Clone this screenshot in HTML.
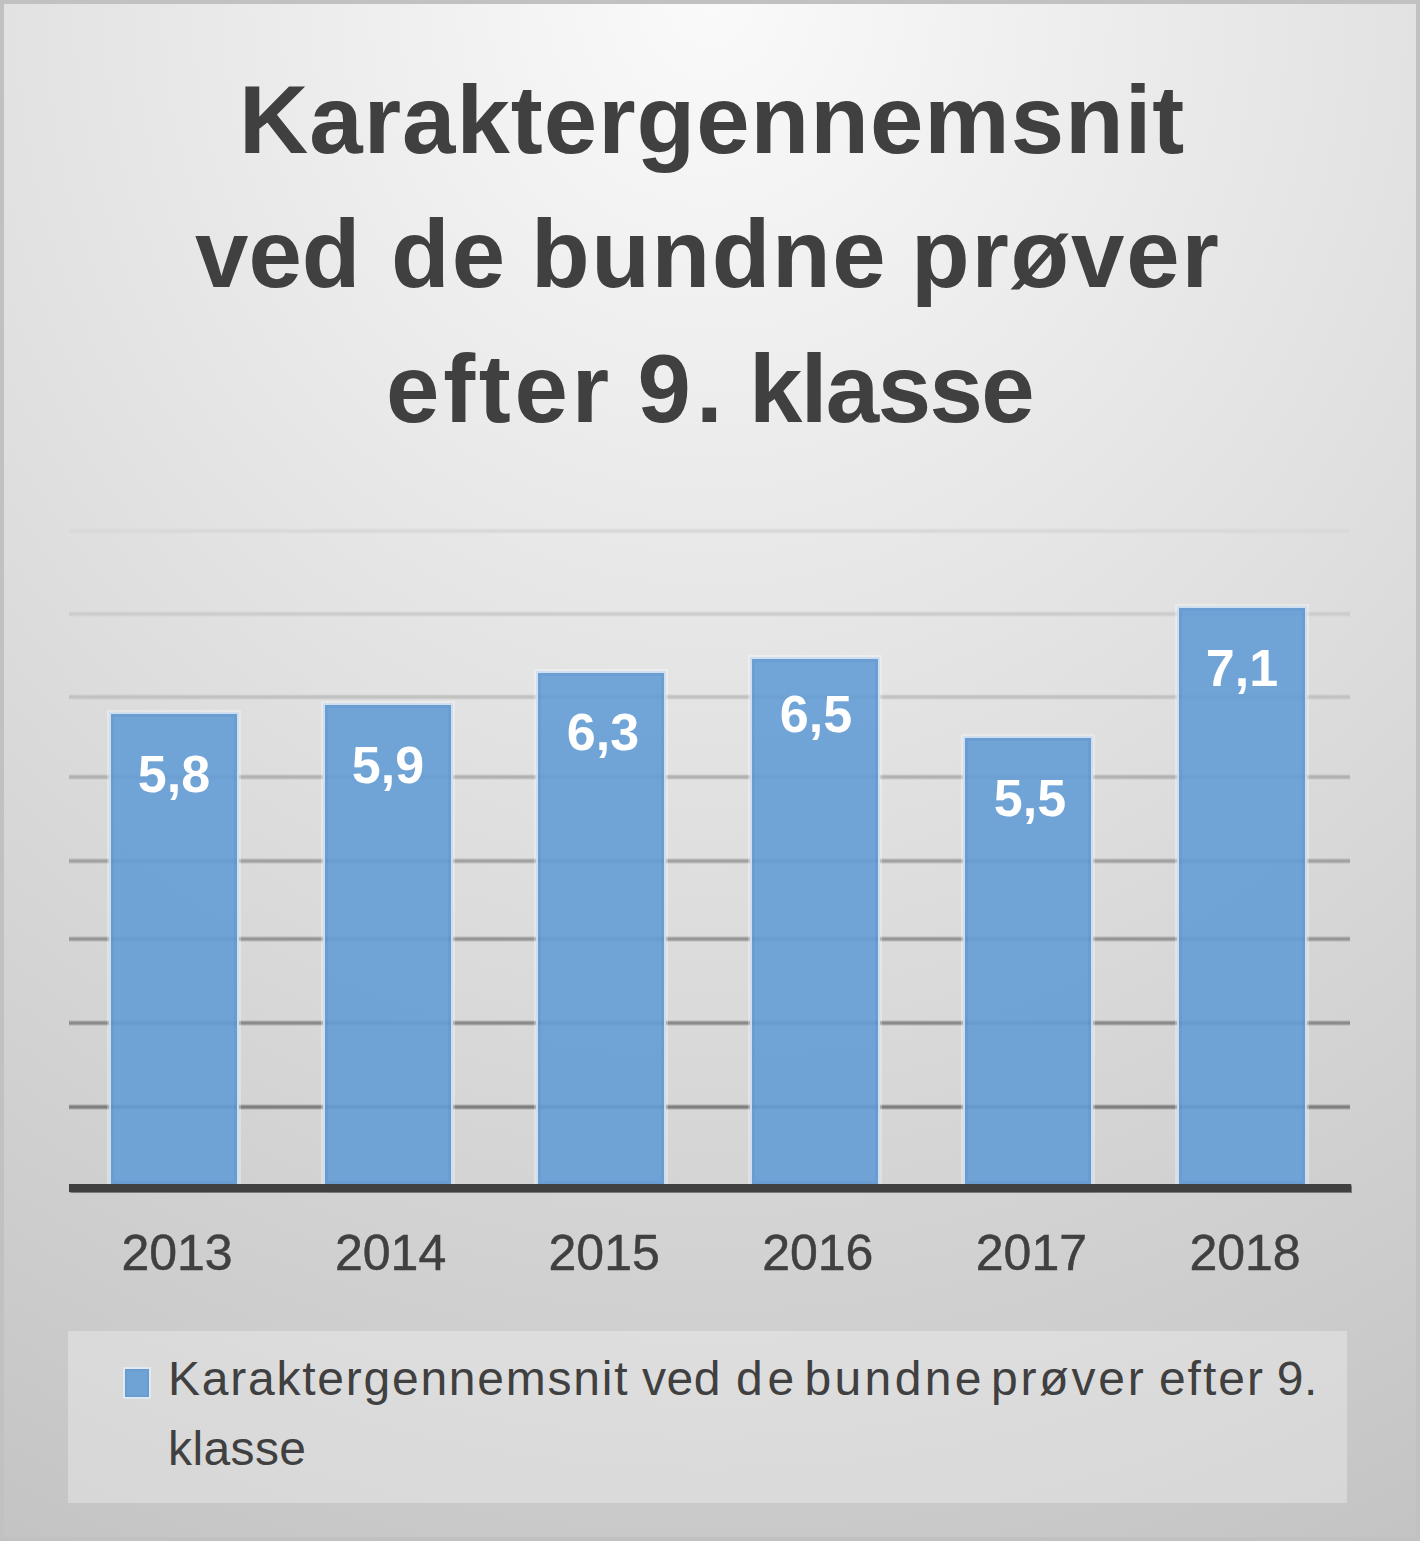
<!DOCTYPE html>
<html><head><meta charset="utf-8">
<style>
html,body{margin:0;padding:0;}
body{width:1420px;height:1541px;position:relative;overflow:hidden;background:#c1c1c1;font-family:"Liberation Sans",sans-serif;}
#bg{position:absolute;left:4px;top:4px;width:1412px;height:1533px;
 background:radial-gradient(ellipse 1685px 1800px at 706px -4px, rgb(250,250,250) 0%, rgb(193,193,193) 100%);}
.t{position:absolute;font-weight:bold;color:#404040;font-size:96px;line-height:100px;white-space:nowrap;}
.g{position:absolute;left:69px;width:1281px;height:6px;}
.bar{position:absolute;width:126px;background:rgba(100,157,214,0.9);
 box-shadow:inset 0 0 0 3px rgba(40,90,150,0.08), 0 0 0 2px rgba(205,222,240,0.95), 0 0 0 4px rgba(255,255,255,0.3);}
.dl{position:absolute;width:126px;text-align:center;color:#fff;font-weight:bold;font-size:52px;line-height:52px;}
#axis{position:absolute;left:69px;top:1184px;width:1282px;height:8px;background:#404040;box-shadow:0 0 1px 0.5px rgba(64,64,64,0.6);}
.cat{position:absolute;width:214px;text-align:center;color:#404040;font-size:50px;line-height:50px;-webkit-text-stroke:0.5px #404040;}
#leg{position:absolute;left:68px;top:1331px;width:1279px;height:172px;background:rgba(255,255,255,0.3);}
#mk{position:absolute;left:125px;top:1369px;width:24px;height:28px;background:#6fa3d6;box-shadow:inset 0 0 0 2px rgba(40,90,150,0.08),0 0 0 2px rgba(225,236,248,0.8);}
.lt{position:absolute;color:#404040;font-size:48px;line-height:50px;white-space:nowrap;}
</style></head><body>
<div id="bg"></div>
<div class="t" style="top:70px;left:239px;letter-spacing:1.0px">Karaktergennemsnit</div>
<div class="t" style="top:204px;left:195px;letter-spacing:0px">ved</div>
<div class="t" style="top:204px;left:391px;letter-spacing:2.0px">de</div>
<div class="t" style="top:204px;left:531px;letter-spacing:1.6px">bundne</div>
<div class="t" style="top:204px;left:911px;letter-spacing:1.8px">prøver</div>
<div class="t" style="top:339px;left:386px;letter-spacing:3.75px">efter</div>
<div class="t" style="top:339px;left:637.6px;letter-spacing:5.0px">9.</div>
<div class="t" style="top:339px;left:749px;letter-spacing:-1.6px">klasse</div>

<div class="g" style="top:528px;background:linear-gradient(rgba(217,217,217,0),#d9d9d9 35%,#d9d9d9 65%,rgba(217,217,217,0))"></div>
<div class="g" style="top:611px;background:linear-gradient(rgba(205,205,205,0),#cdcdcd 35%,#cdcdcd 65%,rgba(205,205,205,0))"></div>
<div class="g" style="top:694px;background:linear-gradient(rgba(194,194,194,0),#c2c2c2 35%,#c2c2c2 65%,rgba(194,194,194,0))"></div>
<div class="g" style="top:774px;background:linear-gradient(rgba(178,178,178,0),#b2b2b2 35%,#b2b2b2 65%,rgba(178,178,178,0))"></div>
<div class="g" style="top:858px;background:linear-gradient(rgba(162,162,162,0),#a2a2a2 35%,#a2a2a2 65%,rgba(162,162,162,0))"></div>
<div class="g" style="top:936px;background:linear-gradient(rgba(150,150,150,0),#969696 35%,#969696 65%,rgba(150,150,150,0))"></div>
<div class="g" style="top:1020px;background:linear-gradient(rgba(139,139,139,0),#8b8b8b 35%,#8b8b8b 65%,rgba(139,139,139,0))"></div>
<div class="g" style="top:1104px;background:linear-gradient(rgba(127,127,127,0),#7f7f7f 35%,#7f7f7f 65%,rgba(127,127,127,0))"></div>

<div class="bar" style="left:111px;top:714px;height:470px"></div>
<div class="bar" style="left:325px;top:705px;height:479px"></div>
<div class="bar" style="left:538px;top:673px;height:511px"></div>
<div class="bar" style="left:752px;top:659px;height:525px"></div>
<div class="bar" style="left:965px;top:738px;height:446px"></div>
<div class="bar" style="left:1179px;top:608px;height:576px"></div>

<div id="axis"></div>

<div class="dl" style="left:111px;top:748px">5,8</div>
<div class="dl" style="left:325px;top:739px">5,9</div>
<div class="dl" style="left:540px;top:706px">6,3</div>
<div class="dl" style="left:753px;top:688px">6,5</div>
<div class="dl" style="left:967px;top:772px">5,5</div>
<div class="dl" style="left:1179px;top:642px">7,1</div>

<div class="cat" style="left:70.0px;top:1228px">2013</div>
<div class="cat" style="left:283.6px;top:1228px">2014</div>
<div class="cat" style="left:497.2px;top:1228px">2015</div>
<div class="cat" style="left:710.8px;top:1228px">2016</div>
<div class="cat" style="left:924.4px;top:1228px">2017</div>
<div class="cat" style="left:1138.0px;top:1228px">2018</div>

<div id="leg"></div>
<div id="mk"></div>
<div class="lt" style="top:1354px;left:168.0px;letter-spacing:1.76px">Karaktergennemsnit</div>
<div class="lt" style="top:1354px;left:642.1px;letter-spacing:0.5px">ved</div>
<div class="lt" style="top:1354px;left:735.9px;letter-spacing:5px">de</div>
<div class="lt" style="top:1354px;left:804.4px;letter-spacing:3.4px">bundne</div>
<div class="lt" style="top:1354px;left:991.1px;letter-spacing:2.8px">prøver</div>
<div class="lt" style="top:1354px;left:1158.9px;letter-spacing:2.0px">efter</div>
<div class="lt" style="top:1354px;left:1276.7px;letter-spacing:0.5px">9.</div>
<div class="lt" style="top:1424px;left:168px;letter-spacing:0.4px">klasse</div>
</body></html>
